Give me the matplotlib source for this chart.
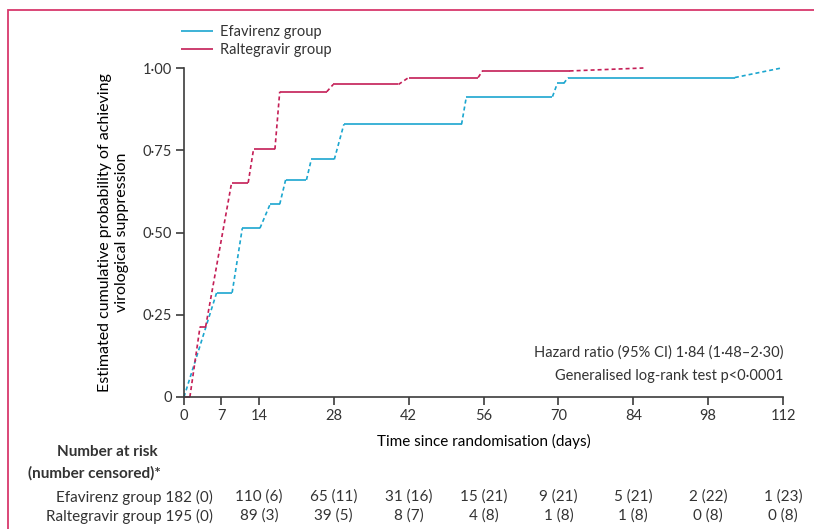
import numpy as np
import matplotlib.pyplot as plt
from matplotlib.patches import Rectangle
from matplotlib.transforms import blended_transform_factory

# Kaplan-Meier style curves: flat (observed) segments given as start, end, level
# gaps between them are drawn dashed (interval censored)
efa_start = [0, 6.1, 10.9, 16.1, 19.0, 23.8, 29.9, 52.8, 69.8, 71.8]
efa_end = [0, 9.0, 14.2, 17.9, 22.9, 28.1, 51.9, 68.9, 71.0, 103.0]
efa_prob = [0, 0.317, 0.513, 0.586, 0.660, 0.722, 0.829, 0.913, 0.953, 0.971]
efa_last_day, efa_last_prob = 111.7, 1.0

ral_start = [0.2, 3.0, 8.9, 13.0, 17.9, 27.9, 42.0, 55.8]
ral_end = [1.1, 4.05, 12.0, 17.0, 26.7, 40.1, 55.0, 72.1]
ral_prob = [0, 0.214, 0.651, 0.753, 0.928, 0.950, 0.971, 0.991]
ral_last_day, ral_last_prob = 85.9, 1.0

# number at risk table
risk_days = [0, 14, 28, 42, 56, 70, 84, 98, 112]
efa_n = [182, 110, 65, 31, 15, 9, 5, 2, 1]
efa_cens = [0, 6, 11, 16, 21, 21, 21, 22, 23]
ral_n = [195, 89, 39, 8, 4, 1, 1, 0, 0]
ral_cens = [0, 3, 5, 7, 8, 8, 8, 8, 8]

x_ticks = [0, 7, 14, 28, 42, 56, 70, 84, 98, 112]
y_ticks = [0, 0.25, 0.5, 0.75, 1.0]

blue = '#1ba6cf'
red = '#c41e56'
frame_col = '#d8386c'
txt = '#333333'
axcol = '#3c3c3c'

plt.rcParams['font.family'] = ['Lato', 'DejaVu Sans']
plt.rcParams['font.size'] = 10
plt.rcParams['text.color'] = txt


def dot(v):
    return str(v).replace('.', '\u00b7')


def draw_curve(ax, starts, ends, probs, last_day, last_prob, col, label):
    for i in range(len(starts)):
        ax.plot([starts[i], ends[i]], [probs[i], probs[i]], color=col, lw=1.2,
                solid_capstyle='butt', clip_on=False, label=label if i == 0 else None)
        if i + 1 < len(starts):
            nx, ny = starts[i + 1], probs[i + 1]
        else:
            nx, ny = last_day, last_prob
        ax.plot([ends[i], nx], [probs[i], ny], color=col, lw=1.2,
                ls=(0, (2.4, 1.8)), clip_on=False)


fig = plt.figure(figsize=(8.14, 5.29), dpi=100)
ax = fig.add_axes([184 / 814, 1 - 397 / 529, 599 / 814, 329 / 529])

draw_curve(ax, efa_start, efa_end, efa_prob, efa_last_day, efa_last_prob, blue, 'Efavirenz group')
draw_curve(ax, ral_start, ral_end, ral_prob, ral_last_day, ral_last_prob, red, 'Raltegravir group')

ax.set_xlim(0, 112)
ax.set_ylim(0, 1)
ax.set_xticks(x_ticks)
ax.set_yticks(y_ticks)
ax.set_yticklabels(['0'] + ['%s' % dot('%.2f' % v) for v in y_ticks[1:]])
for s in ['top', 'right']:
    ax.spines[s].set_visible(False)
for s in ['left', 'bottom']:
    ax.spines[s].set_color(axcol)
    ax.spines[s].set_linewidth(1.2)
ax.tick_params(direction='out', length=6, width=1.2, color=axcol, labelcolor=txt,
               labelsize=10.5, pad=3)

ax.set_xlabel('Time since randomisation (days)', fontsize=11)
ax.xaxis.set_label_coords(0.5, -0.113)
ax.set_ylabel('Estimated cumulative probability of achieving\nvirological suppression',
              fontsize=11.5, linespacing=1.25)
ax.yaxis.set_label_coords(-0.092, 0.5)

ax.text(1.0, 0.135, 'Hazard ratio (95% CI) ' + dot('1.84 (1.48\u20132.30)'),
        transform=ax.transAxes, ha='right', va='center', fontsize=10.5)
ax.text(1.0, 0.065, 'Generalised log-rank test p<' + dot('0.0001'),
        transform=ax.transAxes, ha='right', va='center', fontsize=10.5)

leg = ax.legend(loc='center left', bbox_to_anchor=(181 / 814, 1 - 41 / 529),
                bbox_transform=fig.transFigure, frameon=False, fontsize=10.5,
                handlelength=2.2, handletextpad=0.5, labelspacing=0.3,
                borderaxespad=0, borderpad=0)

# number at risk table
trans = blended_transform_factory(ax.transData, fig.transFigure)
fig.text(158 / 814, 1 - 452 / 529, 'Number at risk', ha='right', va='center',
         fontweight='bold', fontsize=11)
fig.text(161 / 814, 1 - 473 / 529, '(number censored)*', ha='right', va='center',
         fontweight='bold', fontsize=11)
rows = [('Efavirenz group', efa_n, efa_cens, 497), ('Raltegravir group', ral_n, ral_cens, 516)]
for name, n, c, ypx in rows:
    fy = 1 - ypx / 529
    fig.text(213 / 814, fy, '%s %d (%d)' % (name, n[0], c[0]), ha='right', va='center',
             fontsize=11)
    for d, nn, cc in zip(risk_days[1:], n[1:], c[1:]):
        ax.text(d, fy, '%d (%d)' % (nn, cc), transform=trans, ha='center', va='center',
                fontsize=11)

fig.patches.append(Rectangle((8 / 814, -0.1), 1.2, 1.1 - 10 / 529, transform=fig.transFigure,
                             fill=False, edgecolor=frame_col, lw=1.3))

fig.savefig('out.png', dpi=100)
